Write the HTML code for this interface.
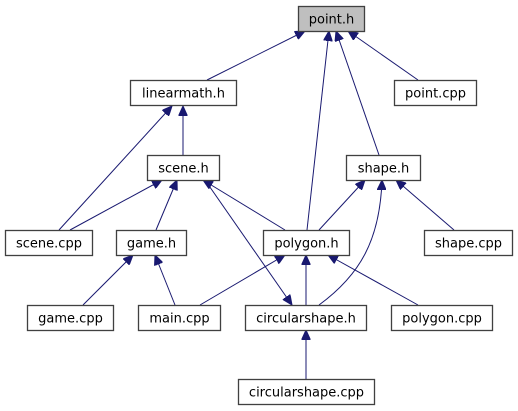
<!DOCTYPE html>
<html><head><meta charset="utf-8"><style>
html,body{margin:0;padding:0;background:#fff;}
svg{display:block;}
text{font-family:"DejaVu Sans","Liberation Sans",sans-serif;font-size:13px;fill:#000;}
rect{stroke:#404040;stroke-width:1.3;fill:#fff;}
line,path{stroke:#191970;stroke-width:1;fill:none;}
</style></head><body>
<svg width="518" height="411" viewBox="0 0 518 411" xmlns="http://www.w3.org/2000/svg">
<defs>
<marker id="a" markerWidth="11" markerHeight="9" refX="10" refY="4.5" orient="auto" markerUnits="userSpaceOnUse">
<path d="M0,0 L10,4.5 L0,9 Z" style="fill:#191970;stroke:#191970"/>
</marker>
</defs>
<g marker-end="url(#a)">
<line x1="207" y1="80" x2="305" y2="31"/>
<line x1="307" y1="230" x2="329" y2="31"/>
<line x1="379" y1="155" x2="336" y2="31"/>
<line x1="418" y1="80" x2="348" y2="31"/>
<line x1="183" y1="155" x2="183" y2="106"/>
<line x1="59" y1="230" x2="172" y2="106"/>
<line x1="70" y1="230" x2="162" y2="180"/>
<line x1="156" y1="230" x2="177" y2="180"/>
<line x1="285" y1="230" x2="203" y2="180"/>
<line x1="319" y1="230" x2="365" y2="180"/>
<path d="M319,305 C360,275 380,240 382,180"/>
<line x1="454" y1="230" x2="396" y2="180"/>
<line x1="83" y1="305" x2="133" y2="255"/>
<line x1="175" y1="305" x2="155" y2="255"/>
<line x1="200" y1="305" x2="285" y2="255"/>
<line x1="306" y1="305" x2="306" y2="255"/>
<line x1="418" y1="305" x2="328" y2="255"/>
<line x1="306" y1="379" x2="306" y2="330"/>
<line x1="205" y1="180" x2="292" y2="305"/>
</g>
<rect x="298.5" y="6.5" width="66" height="25" style="fill:#bfbfbf"/><text x="331.5" y="23.5" text-anchor="middle">point.h</text>
<rect x="130.5" y="80.5" width="106" height="25"/><text x="183.5" y="97.5" text-anchor="middle">linearmath.h</text>
<rect x="394.5" y="80.5" width="82" height="25"/><text x="435.5" y="97.5" text-anchor="middle">point.cpp</text>
<rect x="147.5" y="155.5" width="72" height="25"/><text x="183.5" y="172.5" text-anchor="middle">scene.h</text>
<rect x="346.5" y="155.5" width="74" height="25"/><text x="383.5" y="172.5" text-anchor="middle">shape.h</text>
<rect x="5.5" y="230.5" width="87" height="25"/><text x="49" y="247.5" text-anchor="middle">scene.cpp</text>
<rect x="116.5" y="230.5" width="70" height="25"/><text x="151.5" y="247.5" text-anchor="middle">game.h</text>
<rect x="263.5" y="230.5" width="86" height="25"/><text x="306.5" y="247.5" text-anchor="middle">polygon.h</text>
<rect x="424.5" y="230.5" width="88" height="25"/><text x="468.5" y="247.5" text-anchor="middle">shape.cpp</text>
<rect x="27.5" y="305.5" width="86" height="25"/><text x="70.5" y="322.5" text-anchor="middle">game.cpp</text>
<rect x="138.5" y="305.5" width="82" height="25"/><text x="179.5" y="322.5" text-anchor="middle">main.cpp</text>
<rect x="245.5" y="305.5" width="121" height="25"/><text x="306" y="322.5" text-anchor="middle">circularshape.h</text>
<rect x="391.5" y="305.5" width="101" height="25"/><text x="442" y="322.5" text-anchor="middle">polygon.cpp</text>
<rect x="238.5" y="379.5" width="136" height="25"/><text x="306.5" y="396.5" text-anchor="middle">circularshape.cpp</text>
</svg>
</body></html>
